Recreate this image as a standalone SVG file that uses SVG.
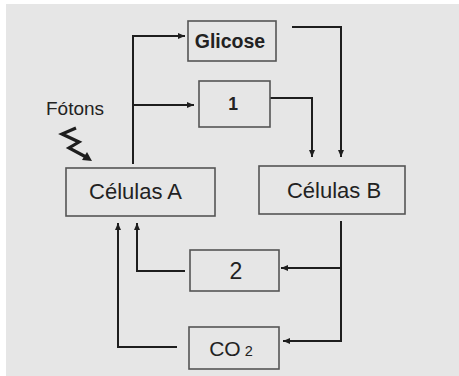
<svg xmlns="http://www.w3.org/2000/svg" width="459" height="376" viewBox="0 0 459 376">
  <style>
    .box { fill: #e6e6e6; stroke: #555; stroke-width: 1.6; }
    .lbl { font-family: "Liberation Sans", Arial, sans-serif; fill: #222; text-anchor: middle; }
    .wire { fill: none; stroke: #1e1e1e; stroke-width: 2; }
  </style>
  <defs>
    <marker id="arrow" markerUnits="userSpaceOnUse" markerWidth="8" markerHeight="8" viewBox="0 0 8 8" refX="7" refY="4" orient="auto">
      <path d="M0,1 L7,4 L0,7 Z" fill="#1e1e1e"/>
    </marker>
  </defs>

  <rect x="6" y="4" width="453" height="372" fill="#e6e6e6"/>

  <g id="connectors">
    <path class="wire" d="M133,164 V36 H185" marker-end="url(#arrow)"/>
    <path class="wire" d="M133,105 H194" marker-end="url(#arrow)"/>
    <path class="wire" d="M292,27 H341 V157" marker-end="url(#arrow)"/>
    <path class="wire" d="M270,98 H312 V157" marker-end="url(#arrow)"/>
    <path class="wire" d="M341,221 V341 H283" marker-end="url(#arrow)"/>
    <path class="wire" d="M341,268 H281" marker-end="url(#arrow)"/>
    <path class="wire" d="M185,271 H137 V223" marker-end="url(#arrow)"/>
    <path class="wire" d="M177,347 H118 V223" marker-end="url(#arrow)"/>
  </g>

  <g id="fotons">
    <text class="lbl" x="75" y="115" font-size="19">Fótons</text>
    <path d="M76,128 L62,134 L79,142 L69,148 L86,157" fill="none" stroke="#1e1e1e" stroke-width="3.2" stroke-linejoin="miter"/>
    <path d="M92,161 L82,160 L87,152 Z" fill="#1e1e1e"/>
  </g>

  <g id="glicose">
    <rect class="box" x="188" y="21" width="88" height="40"/>
    <text class="lbl" x="230" y="48" font-size="19.5" font-weight="bold">Glicose</text>
  </g>

  <g id="produto1">
    <rect class="box" x="199" y="81" width="71" height="46"/>
    <text class="lbl" x="233" y="109.5" font-size="17.5" font-weight="bold">1</text>
  </g>

  <g id="celulas-a">
    <rect class="box" x="66" y="168" width="149" height="48"/>
    <text class="lbl" x="135.5" y="199.3" font-size="22">Células A</text>
  </g>

  <g id="celulas-b">
    <rect class="box" x="259" y="166" width="146" height="48"/>
    <text class="lbl" x="334" y="198.3" font-size="22">Células B</text>
  </g>

  <g id="produto2">
    <rect class="box" x="190" y="250" width="89" height="41"/>
    <text class="lbl" x="236" y="279.3" font-size="23">2</text>
  </g>

  <g id="co2">
    <rect class="box" x="189" y="327" width="90" height="42"/>
    <text class="lbl" x="231" y="355.7" font-size="21">CO<tspan font-size="14.5" dx="4">2</tspan></text>
  </g>
</svg>
